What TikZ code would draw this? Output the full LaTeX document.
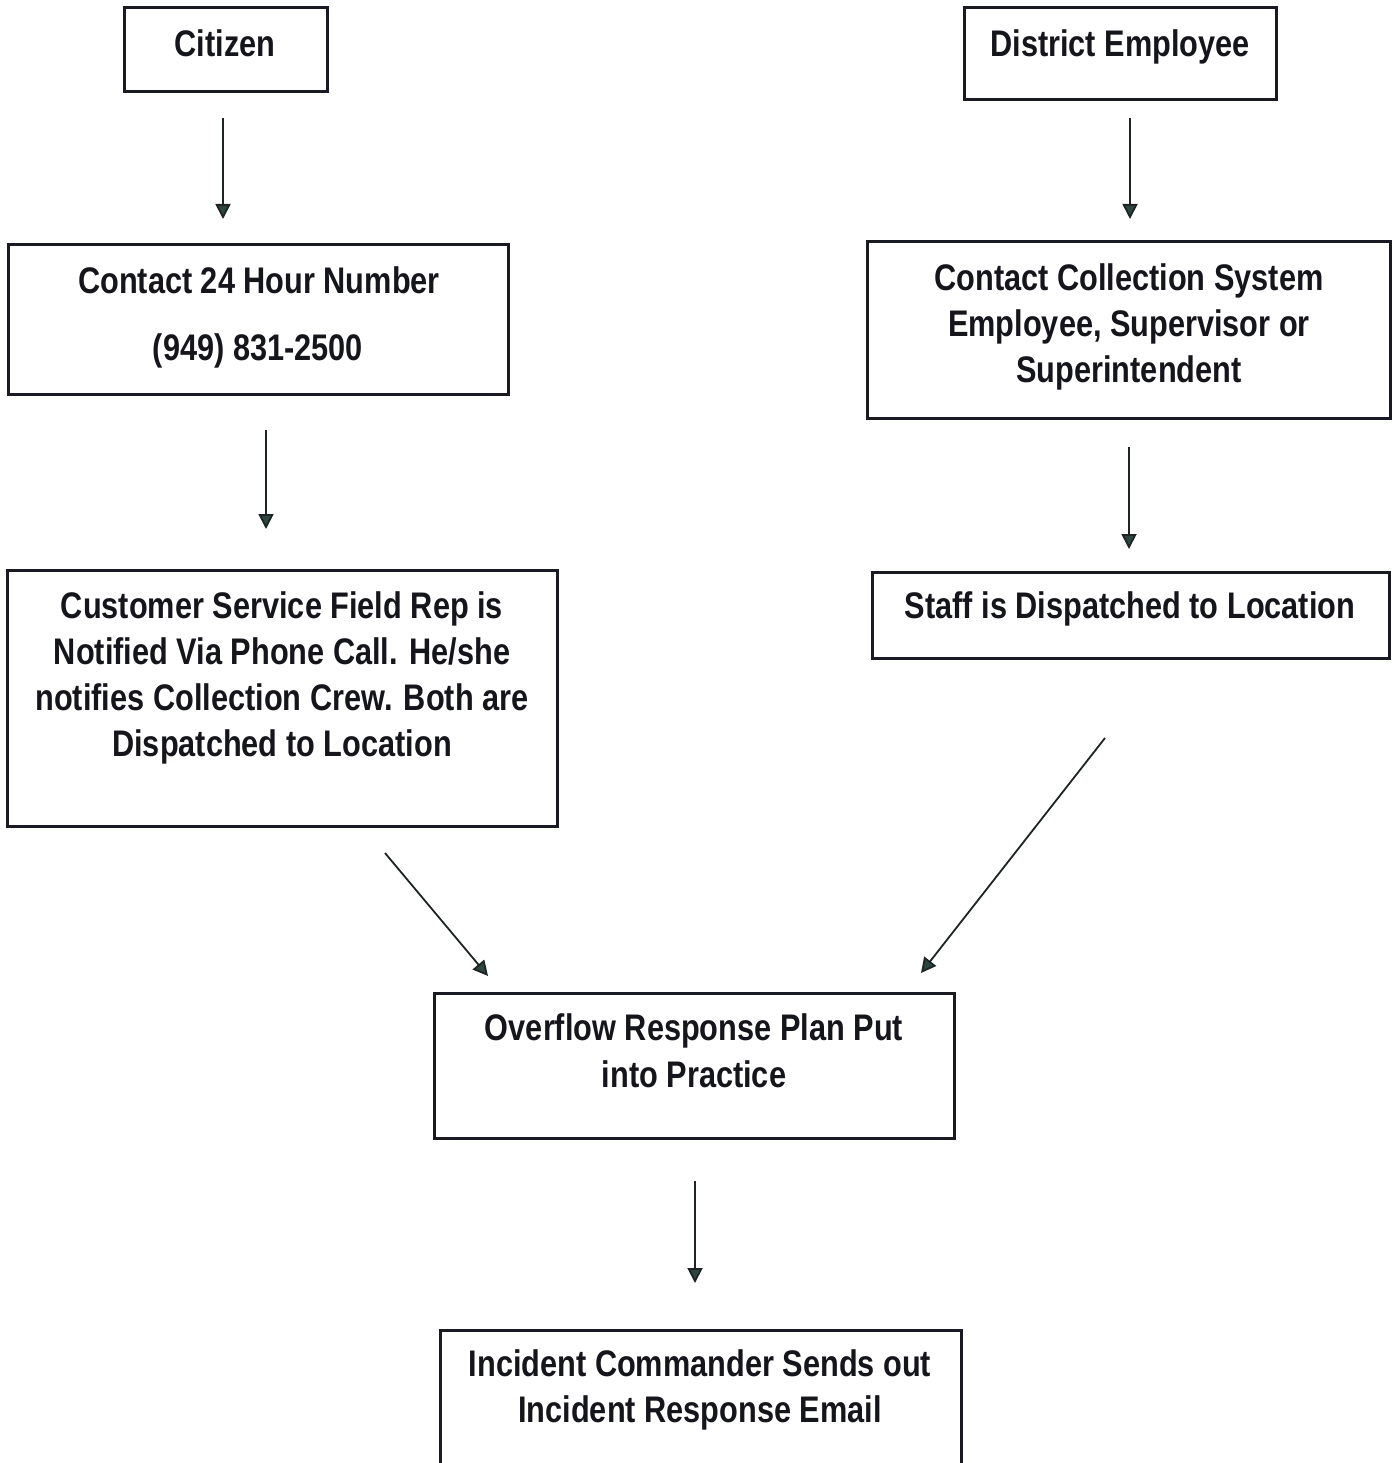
\documentclass[tikz,border=0pt]{standalone}
\usepackage{fontspec}
\setmainfont{Liberation Sans}[FakeStretch=0.83]
\usetikzlibrary{arrows.meta}
\definecolor{boxc}{HTML}{1A1A22}
\definecolor{txtc}{HTML}{15151C}
\definecolor{arrc}{HTML}{1E2424}
\definecolor{headc}{HTML}{2E4640}
\tikzset{
  box/.style={draw=boxc, line width=3pt, inner sep=0pt, rectangle},
  txt/.style={anchor=base, inner sep=0pt, font=\bfseries\fontsize{37}{46}\selectfont, text=txtc},
  arr/.style={draw=arrc, line width=1.8pt, -{Triangle[width=15pt,length=15pt,fill=headc]}},
}
\begin{document}
\begin{tikzpicture}[x=1pt,y=-1pt]
\clip (0,0) rectangle (1393,1463);
\fill[white] (0,0) rectangle (1393,1463);
% boxes
\node[box, minimum width=203pt, minimum height=84pt] (citizen) at (225.5,50) {};
\node[box, minimum width=312pt, minimum height=92pt] (district) at (1120,54) {};
\node[box, minimum width=500pt, minimum height=149pt] (contact) at (258,319.5) {};
\node[box, minimum width=523pt, minimum height=176pt] (collect) at (1128.5,330) {};
\node[box, minimum width=550pt, minimum height=256pt] (csfr) at (282,698) {};
\node[box, minimum width=517pt, minimum height=86pt] (staff) at (1130.5,615) {};
\node[box, minimum width=520pt, minimum height=145pt] (overflow) at (694,1065.5) {};
\node[box, minimum width=521pt, minimum height=180pt] (incident) at (700.5,1420) {};
% texts
\node[txt] (t1) at (225,57) {Citizen};
\node[txt] (t2) at (1120,57) {District Employee};
\node[txt] (t3a) at (259,293) {Contact 24 Hour Number};
\node[txt] (t3b) at (258,360) {(949) 831-2500};
\node[txt] (t4a) at (1129,290) {Contact Collection System};
\node[txt] (t4b) at (1129,336) {Employee, Supervisor or};
\node[txt] (t4c) at (1129,382) {Superintendent};
\node[txt] (t5a) at (282,618) {Customer Service Field Rep is};
\node[txt] (t5b) at (282,664) {Notified Via Phone Call. He/she};
\node[txt] (t5c) at (282,710) {notifies Collection Crew. Both are};
\node[txt] (t5d) at (282,756) {Dispatched to Location};
\node[txt] (t6) at (1130,618) {Staff is Dispatched to Location};
\node[txt] (t7a) at (694,1040) {Overflow Response Plan Put};
\node[txt] (t7b) at (694,1087) {into Practice};
\node[txt] (t8a) at (700,1376) {Incident Commander Sends out};
\node[txt] (t8b) at (700,1422) {Incident Response Email};
% arrow ends
\coordinate (a1s) at (223,118); \coordinate (a1e) at (223,219);
\coordinate (a2s) at (1130,118); \coordinate (a2e) at (1130,219);
\coordinate (a3s) at (266,430); \coordinate (a3e) at (266,529);
\coordinate (a4s) at (1129,447); \coordinate (a4e) at (1129,549);
\coordinate (a5s) at (385,853); \coordinate (a5e) at (488,976);
\coordinate (a6s) at (1105,738); \coordinate (a6e) at (921,973);
\coordinate (a7s) at (695,1181); \coordinate (a7e) at (695,1283);
\draw[arr] (a1s) -- (a1e);
\draw[arr] (a2s) -- (a2e);
\draw[arr] (a3s) -- (a3e);
\draw[arr] (a4s) -- (a4e);
\draw[arr] (a5s) -- (a5e);
\draw[arr] (a6s) -- (a6e);
\draw[arr] (a7s) -- (a7e);
\end{tikzpicture}
\end{document}
